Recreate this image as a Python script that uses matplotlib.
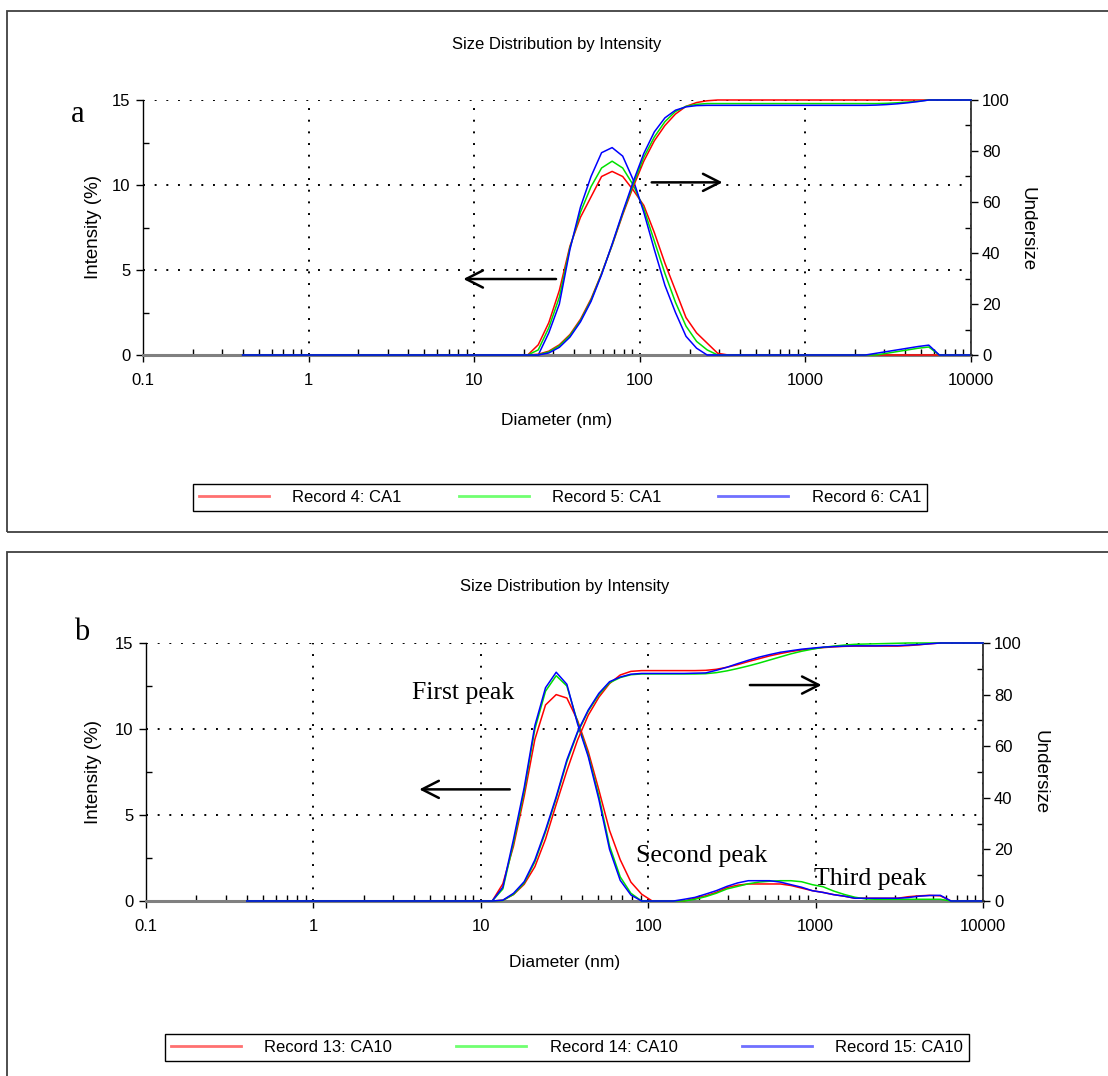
import numpy as np
import matplotlib.pyplot as plt
from matplotlib.lines import Line2D
from matplotlib.patches import Rectangle
from matplotlib.ticker import FixedLocator, FixedFormatter, LogLocator, NullFormatter

# size classes (nm)
sizes = [0.4, 0.4632, 0.5365, 0.6213, 0.7195, 0.8332, 0.9649, 1.117, 1.294, 1.499,
         1.736, 2.01, 2.328, 2.696, 3.122, 3.615, 4.187, 4.849, 5.615, 6.503,
         7.531, 8.721, 10.1, 11.7, 13.54, 15.69, 18.17, 21.04, 24.36, 28.21,
         32.67, 37.84, 43.82, 50.75, 58.77, 68.06, 78.82, 91.28, 105.7, 122.4,
         141.8, 164.2, 190.1, 220.2, 255.0, 295.3, 342.0, 396.1, 458.7, 531.2,
         615.1, 712.4, 825.0, 955.4, 1106, 1281, 1484, 1718, 1990, 2305,
         2669, 3091, 3580, 4145, 4801, 5560, 6439, 7456, 8635, 10000]

# panel a : CA1
int_a_red = [0]*28 + [0.6, 1.9, 3.8, 6.4, 8.1, 9.3, 10.5, 10.8, 10.5, 9.7, 8.8, 7.2, 5.4, 3.8, 2.2, 1.3, 0.7, 0.1] + [0]*24
int_a_green = [0]*28 + [0.3, 1.6, 3.4, 6.3, 8.4, 9.9, 11.0, 11.4, 11.0, 10.0, 8.6, 6.7, 4.8, 3.1, 1.7, 0.8, 0.3, 0.0] \
    + [0]*13 + [0, 0, 0.1, 0.2, 0.3, 0.4, 0.47, 0] + [0]*3
int_a_blue = [0]*28 + [0.0, 1.3, 3.0, 6.2, 8.7, 10.5, 11.9, 12.2, 11.7, 10.3, 8.4, 6.2, 4.1, 2.5, 1.1, 0.4, 0.0, 0.0] \
    + [0]*13 + [0, 0.1, 0.2, 0.3, 0.4, 0.5, 0.58, 0] + [0]*3

und_a_red = [0]*28 + [0.3, 1.5, 4, 8, 14, 22, 32, 43, 55, 66, 76, 84, 90, 94.5, 97.5, 99, 99.7, 100] + [100]*24
und_a_green = [0]*28 + [0.1, 1.2, 3.6, 7.6, 13.5, 21.5, 31.8, 43.2, 55.5, 67, 77.5, 85.5, 91.5, 95.5, 97.5, 98.3, 98.6, 98.6] \
    + [98.6]*15 + [98.7, 98.9, 99.2, 99.5, 100, 100] + [100]*3
und_a_blue = [0]*28 + [0.0, 0.8, 3, 7, 13, 21, 31.5, 43.5, 56, 68, 79, 87.5, 93, 96, 97.3, 97.8, 97.9, 97.9] \
    + [97.9]*14 + [98.0, 98.2, 98.5, 98.9, 99.4, 100, 100] + [100]*3

# panel b : CA10
int_b_red = [0]*24 + [1.0, 3.2, 6.1, 9.4, 11.4, 12.0, 11.8, 10.5, 8.7, 6.45, 4.1, 2.4, 1.1, 0.4, 0.0] + [0, 0, 0] \
    + [0.16, 0.3, 0.5, 0.78, 0.92, 0.99, 0.99, 0.99, 0.99, 0.9, 0.75, 0.6, 0.5, 0.37, 0.28, 0.16,
       0.16, 0.16, 0.16, 0.16, 0.25, 0.3, 0.33, 0.3, 0.0] + [0]*3
int_b_green = [0]*24 + [0.7, 3.4, 6.4, 10.0, 12.2, 13.1, 12.5, 10.4, 8.5, 6.1, 3.2, 1.4, 0.45, 0.0, 0.0] + [0, 0, 0] \
    + [0.1, 0.25, 0.45, 0.7, 0.85, 1.0, 1.1, 1.15, 1.18, 1.18, 1.12, 0.95, 0.83, 0.58, 0.38, 0.22,
       0.12, 0.1, 0.1, 0.1, 0.1, 0.1, 0.1, 0.1, 0.0] + [0]*3
int_b_blue = [0]*24 + [0.8, 3.6, 6.6, 10.2, 12.4, 13.3, 12.6, 10.3, 8.4, 5.9, 3.0, 1.2, 0.35, 0.0, 0.0] + [0, 0, 0.1] \
    + [0.21, 0.4, 0.6, 0.85, 1.05, 1.18, 1.18, 1.18, 1.1, 0.95, 0.8, 0.6, 0.5, 0.37, 0.28, 0.16,
       0.16, 0.16, 0.16, 0.16, 0.2, 0.28, 0.32, 0.33, 0.0] + [0]*3

und_b_red = [0]*24 + [0.3, 2.5, 6.5, 13.3, 24, 37.5, 50.5, 62.4, 72, 79, 84.3, 87.6, 89, 89.3, 89.3, 89.3, 89.3, 89.3, 89.3] \
    + [89.4, 89.8, 90.6, 91.6, 92.8, 93.9, 95.0, 95.9, 96.7, 97.3, 97.8, 98.2, 98.5, 98.7, 98.8, 98.8,
       98.8, 98.8, 98.8, 99.0, 99.3, 99.7, 100, 100] + [100]*3
und_b_green = [0]*24 + [0.2, 2.6, 7, 15.2, 26.8, 39.8, 54, 65.2, 73.6, 80, 84.6, 86.6, 87.7, 88, 88, 88, 88, 88, 88] \
    + [88.1, 88.5, 89.2, 90.1, 91.1, 92.2, 93.4, 94.6, 95.8, 96.8, 97.6, 98.3, 98.8, 99.2, 99.5, 99.6,
       99.7, 99.8, 99.9, 100, 100, 100, 100, 100] + [100]*3
und_b_blue = [0]*24 + [0.3, 3, 7.5, 15.9, 27.5, 40.4, 54.7, 65.6, 74, 80.5, 85, 86.8, 87.9, 88.2, 88.2, 88.2, 88.2, 88.2, 88.3] \
    + [88.4, 89.4, 90.6, 92.0, 93.3, 94.5, 95.5, 96.4, 97.0, 97.6, 98.0, 98.4, 98.6, 98.8, 98.9, 98.9,
       98.9, 99.0, 99.0, 99.2, 99.4, 99.7, 100, 100] + [100]*3

labels_a = ['Record 4: CA1', 'Record 5: CA1', 'Record 6: CA1']
labels_b = ['Record 13: CA10', 'Record 14: CA10', 'Record 15: CA10']
colors = ['#ff0000', '#00e000', '#0000ff']
leg_colors = ['#ff7070', '#70ff70', '#7070ff']
xtick_vals = [0.1, 1, 10, 100, 1000, 10000]
xtick_text = ['0.1', '1', '10', '100', '1000', '10000']

SANS = 'Liberation Sans'
SERIF = 'Liberation Serif'
W, H = 1108, 1076

fig = plt.figure(figsize=(W/100, H/100), dpi=100)


def fx(px):
    return px / W


def fy(py):
    return 1 - py / H


def make_panel(left, right, top, bottom):
    ax = fig.add_axes([fx(left), fy(bottom), fx(right - left), (bottom - top) / H])
    ax.set_xscale('log')
    ax.set_xlim(0.1, 10000)
    ax.set_ylim(0, 15)
    ax.xaxis.set_major_locator(FixedLocator(xtick_vals))
    ax.xaxis.set_major_formatter(FixedFormatter(xtick_text))
    ax.xaxis.set_minor_locator(LogLocator(base=10, subs=np.arange(2, 10)))
    ax.xaxis.set_minor_formatter(NullFormatter())
    ax.set_yticks([0, 5, 10, 15])
    ax.set_yticks([2.5, 7.5, 12.5], minor=True)
    ax.grid(True, which='major', color='black', linestyle=(0, (1, 5)), linewidth=1.4)
    ax.spines['top'].set_visible(False)
    ax.spines['right'].set_visible(False)
    ax.spines['bottom'].set_color('#808080')
    ax.spines['bottom'].set_linewidth(2.2)
    ax.spines['left'].set_linewidth(1.0)
    ax.tick_params(which='major', direction='out', length=5, width=1, labelsize=12, pad=4)
    ax.tick_params(which='minor', direction='in', length=4, width=1)
    ax.tick_params(axis='x', which='major', pad=8)
    for t in ax.get_xticklabels() + ax.get_yticklabels():
        t.set_family(SANS)

    ax2 = ax.twinx()
    ax2.set_ylim(0, 100)
    ax2.set_yticks([0, 20, 40, 60, 80, 100])
    ax2.set_yticks([10, 30, 50, 70, 90], minor=True)
    for s in ['top', 'left', 'bottom']:
        ax2.spines[s].set_visible(False)
    ax2.spines['right'].set_color('#303030')
    ax2.spines['right'].set_linewidth(1.3)
    ax2.tick_params(which='major', direction='out', length=5, width=1, labelsize=12, pad=3)
    ax2.tick_params(which='minor', direction='in', length=4, width=1)
    for t in ax2.get_yticklabels():
        t.set_family(SANS)
    return ax, ax2


def draw_panel(ax, ax2, ints, unds):
    for vals, c in zip(ints, colors):
        ax.plot(sizes, vals, color=c, lw=1.1, clip_on=False, zorder=3)
    for vals, c in zip(unds, colors):
        ax2.plot(sizes, vals, color=c, lw=1.1, clip_on=False, zorder=3)


def arrow(ax, tail, head):
    ax.annotate('', xy=head, xytext=tail,
                arrowprops=dict(arrowstyle='->,head_length=0.55,head_width=0.28',
                                mutation_scale=22, lw=1.8, color='black',
                                shrinkA=0, shrinkB=0))


def legend(labels, x0, x1, y0, y1):
    handles = [Line2D([0], [0], color=c, lw=2) for c in leg_colors]
    lg = fig.legend(handles, labels, loc='lower left',
                    bbox_to_anchor=(fx(x0), fy(y1), fx(x1 - x0), (y1 - y0) / H),
                    mode='expand', ncol=3, fancybox=False, edgecolor='black',
                    framealpha=1, handlelength=4.2, handletextpad=1.4,
                    borderaxespad=0, borderpad=0.35,
                    prop={'family': SANS, 'size': 12})
    lg.get_frame().set_linewidth(1.0)


# outer boxes
fig.add_artist(Rectangle((fx(7), fy(532)), 1.2, (532 - 11) / H, transform=fig.transFigure,
                         fill=False, edgecolor='#404040', lw=1.3))
fig.add_artist(Rectangle((fx(7), -0.2), 1.2, fy(552) + 0.2, transform=fig.transFigure,
                         fill=False, edgecolor='#404040', lw=1.3))

# ---- panel a
ax, ax2 = make_panel(143, 971, 100, 355)
draw_panel(ax, ax2, [int_a_red, int_a_green, int_a_blue], [und_a_red, und_a_green, und_a_blue])
arrow(ax, (31.2, 4.47), (8.6, 4.47))
arrow(ax2, (118, 67.7), (316, 67.7))
fig.text(fx(557), fy(44), 'Size Distribution by Intensity', ha='center', va='center', family=SANS, size=12)
fig.text(fx(557), fy(421), 'Diameter (nm)', ha='center', va='center', family=SANS, size=12.5)
fig.text(fx(94), fy(227), 'Intensity (%)', ha='center', va='center', rotation=90, family=SANS, size=13.5)
fig.text(fx(1027), fy(229), 'Undersize', ha='center', va='center', rotation=-90, family=SANS, size=13.5)
fig.text(fx(78), fy(115), 'a', ha='center', va='center', family=SERIF, size=22)
legend(labels_a, 193, 927, 480, 511)

# ---- panel b
bx, bx2 = make_panel(146, 983, 643, 901)
draw_panel(bx, bx2, [int_b_red, int_b_green, int_b_blue], [und_b_red, und_b_green, und_b_blue])
arrow(bx, (14.9, 6.49), (4.29, 6.49))
arrow(bx2, (405, 83.7), (1086, 83.7))
bx.text(3.86, 11.74, 'First peak', family=SERIF, size=18.5, va='baseline')
bx.text(84.5, 2.28, 'Second peak', family=SERIF, size=18.5, va='baseline')
bx.text(977, 0.93, 'Third peak', family=SERIF, size=18.5, va='baseline')
fig.text(fx(564.5), fy(586), 'Size Distribution by Intensity', ha='center', va='center', family=SANS, size=12)
fig.text(fx(564.5), fy(963), 'Diameter (nm)', ha='center', va='center', family=SANS, size=12.5)
fig.text(fx(94), fy(772), 'Intensity (%)', ha='center', va='center', rotation=90, family=SANS, size=13.5)
fig.text(fx(1040), fy(772), 'Undersize', ha='center', va='center', rotation=-90, family=SANS, size=13.5)
fig.text(fx(82), fy(632), 'b', ha='center', va='center', family=SERIF, size=22)
legend(labels_b, 165, 969, 1030, 1061)

plt.savefig('out.png', dpi=100)
